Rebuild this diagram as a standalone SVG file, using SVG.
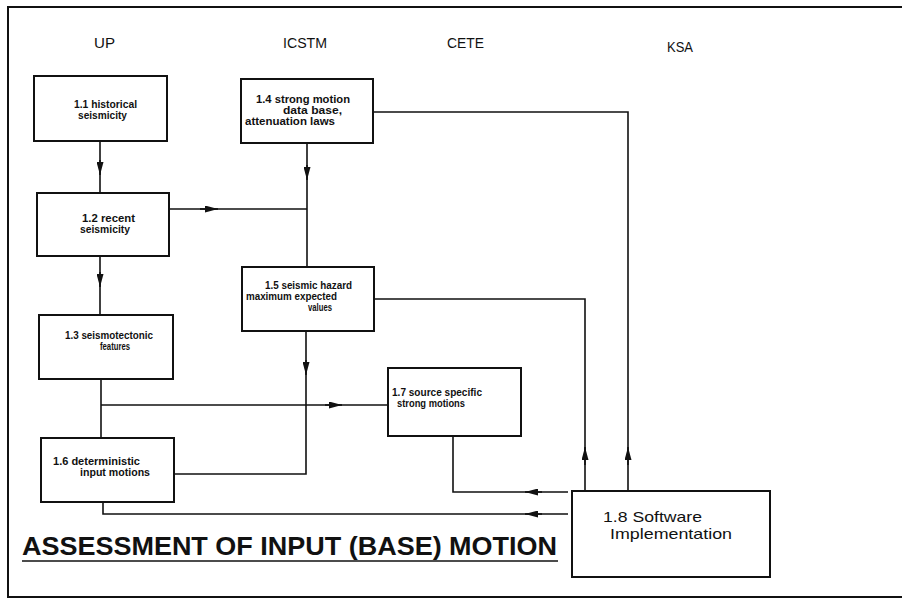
<svg xmlns="http://www.w3.org/2000/svg" width="902" height="599" viewBox="0 0 902 599">
<defs>
<style>
.frame{fill:none;stroke:#111;stroke-width:2}
.box{fill:#fff;stroke:#111;stroke-width:2}
.ln{fill:none;stroke:#111;stroke-width:1.6}
.t{font-family:"Liberation Sans",Arial,sans-serif;font-size:10px;font-weight:bold;fill:#111}
.hd{font-family:"Liberation Sans",Arial,sans-serif;font-size:14px;fill:#111}
.big{font-family:"Liberation Sans",Arial,sans-serif;font-size:15px;fill:#111}
.title{font-family:"Liberation Sans",Arial,sans-serif;font-size:25px;font-weight:bold;fill:#111}
</style>
<marker id="arr" markerUnits="userSpaceOnUse" markerWidth="13" markerHeight="7" refX="13" refY="3.5" orient="auto">
<path d="M0,0 L13,3.5 L0,7 Z" fill="#111"/>
</marker>
</defs>
<rect width="902" height="599" fill="#fff"/>
<path class="frame" d="M910,7 H8 V597 H910"/>

<g id="headers">
<text class="hd" x="94" y="48" textLength="21" lengthAdjust="spacingAndGlyphs">UP</text>
<text class="hd" x="283" y="48" textLength="44" lengthAdjust="spacingAndGlyphs">ICSTM</text>
<text class="hd" x="447" y="48" textLength="37" lengthAdjust="spacingAndGlyphs">CETE</text>
<text class="hd" x="667" y="52" textLength="26" lengthAdjust="spacingAndGlyphs">KSA</text>
</g>

<g id="connectors">
<path class="ln" d="M100,141 V193"/>
<path class="ln" d="M100,160 V175" marker-end="url(#arr)"/>
<path class="ln" d="M100,256 V315"/>
<path class="ln" d="M100,272 V287" marker-end="url(#arr)"/>
<path class="ln" d="M307,143 V267"/>
<path class="ln" d="M307,165 V180" marker-end="url(#arr)"/>
<path class="ln" d="M169,209 H307"/>
<path class="ln" d="M200,209 H218" marker-end="url(#arr)"/>
<path class="ln" d="M373,112 H628 V491"/>
<path class="ln" d="M628,465 V447" marker-end="url(#arr)"/>
<path class="ln" d="M374,299 H585 V491"/>
<path class="ln" d="M585,465 V447" marker-end="url(#arr)"/>
<path class="ln" d="M306,331 V474 H174"/>
<path class="ln" d="M306,360 V375" marker-end="url(#arr)"/>
<path class="ln" d="M101,379 V438"/>
<path class="ln" d="M101,405 H388"/>
<path class="ln" d="M325,405 H342" marker-end="url(#arr)"/>
<path class="ln" d="M568,492 H453 V436"/>
<path class="ln" d="M542,492 H525" marker-end="url(#arr)"/>
<path class="ln" d="M568,514 H103 V502"/>
<path class="ln" d="M542,514 H525" marker-end="url(#arr)"/>
</g>

<g id="n11">
<rect class="box" x="34" y="76" width="133" height="65"/>
<text class="t" x="74" y="108" textLength="63" lengthAdjust="spacingAndGlyphs">1.1 historical</text>
<text class="t" x="78" y="119" textLength="49" lengthAdjust="spacingAndGlyphs">seismicity</text>
</g>
<g id="n12">
<rect class="box" x="37" y="193" width="132" height="63"/>
<text class="t" x="82" y="222" textLength="53" lengthAdjust="spacingAndGlyphs">1.2 recent</text>
<text class="t" x="80" y="233" textLength="50" lengthAdjust="spacingAndGlyphs">seismicity</text>
</g>
<g id="n13">
<rect class="box" x="39" y="315" width="134" height="64"/>
<text class="t" x="65" y="339" textLength="88" lengthAdjust="spacingAndGlyphs">1.3 seismotectonic</text>
<text class="t" x="100" y="350" textLength="30" lengthAdjust="spacingAndGlyphs">features</text>
</g>
<g id="n14">
<rect class="box" x="241" y="79" width="132" height="64"/>
<text class="t" x="256" y="103" textLength="94" lengthAdjust="spacingAndGlyphs">1.4 strong motion</text>
<text class="t" x="283" y="114" textLength="59" lengthAdjust="spacingAndGlyphs">data base,</text>
<text class="t" x="245" y="125" textLength="90" lengthAdjust="spacingAndGlyphs">attenuation laws</text>
</g>
<g id="n15">
<rect class="box" x="242" y="267" width="132" height="64"/>
<text class="t" x="265" y="289" textLength="87" lengthAdjust="spacingAndGlyphs">1.5 seismic hazard</text>
<text class="t" x="246" y="300" textLength="91" lengthAdjust="spacingAndGlyphs">maximum expected</text>
<text class="t" x="308" y="311" textLength="24" lengthAdjust="spacingAndGlyphs">values</text>
</g>
<g id="n16">
<rect class="box" x="41" y="438" width="133" height="64"/>
<text class="t" x="53" y="465" textLength="87" lengthAdjust="spacingAndGlyphs">1.6 deterministic</text>
<text class="t" x="80" y="476" textLength="70" lengthAdjust="spacingAndGlyphs">input motions</text>
</g>
<g id="n17">
<rect class="box" x="388" y="368" width="133" height="68"/>
<text class="t" x="392" y="396" textLength="90" lengthAdjust="spacingAndGlyphs">1.7 source specific</text>
<text class="t" x="397" y="407" textLength="68" lengthAdjust="spacingAndGlyphs">strong motions</text>
</g>
<g id="n18">
<rect class="box" x="572" y="491" width="198" height="86"/>
<text class="big" x="603" y="522" textLength="99" lengthAdjust="spacingAndGlyphs">1.8 Software</text>
<text class="big" x="610" y="539" textLength="122" lengthAdjust="spacingAndGlyphs">Implementation</text>
</g>

<g id="title">
<text class="title" x="22" y="555" textLength="535" lengthAdjust="spacingAndGlyphs">ASSESSMENT OF INPUT (BASE) MOTION</text>
<path class="ln" d="M22,561 H558" stroke-width="2"/>
</g>
</svg>
